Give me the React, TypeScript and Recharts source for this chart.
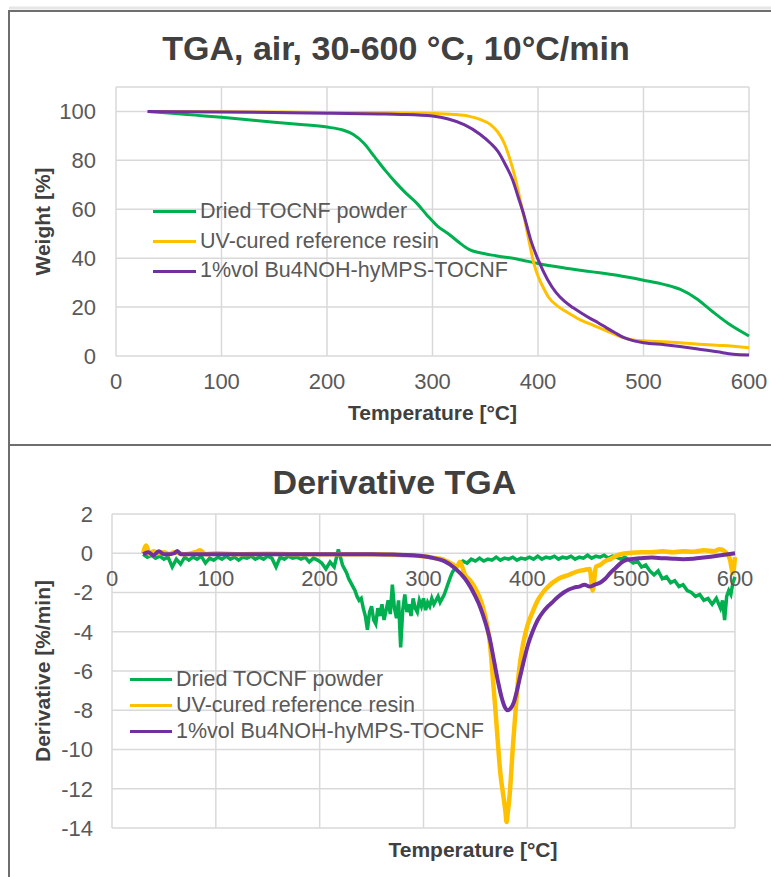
import { LineChart, Line, XAxis, YAxis, CartesianGrid } from 'recharts';

const FONT = "'Liberation Sans', Arial, Helvetica, sans-serif";
const GREEN = '#00B050';
const ORANGE = '#FFC000';
const PURPLE = '#7030A0';
const GRID = '#d9d9d9';
const TICK_COLOR = '#595959';
const TITLE_COLOR = '#404040';

const seriesNames = ['Dried TOCNF powder', 'UV-cured reference resin', '1%vol Bu4NOH-hyMPS-TOCNF'];
const seriesColors = [GREEN, ORANGE, PURPLE];

const tempTicks = [0, 100, 200, 300, 400, 500, 600];
const weightTicks = [0, 20, 40, 60, 80, 100];
const derivTicks = [-14, -12, -10, -8, -6, -4, -2, 0, 2];

// TGA weight curves [%]
const tocnfT = [30, 50, 75, 100, 125, 150, 175, 200, 215, 225, 235, 245, 255, 265, 275, 285, 295, 305, 315, 325, 335, 345, 360, 380, 400, 425, 450, 475, 500, 520, 535, 550, 565, 580, 600];
const tocnfW = [100, 99.4, 98.5, 97.6, 96.6, 95.6, 94.7, 93.6, 92.4, 90.6, 87, 81.5, 76, 71, 66.5, 62.5, 57.5, 53, 50, 46.5, 43.5, 42.2, 41, 39.7, 37.8, 36, 34.5, 33, 31, 29.2, 27.2, 23.5, 18.3, 13.4, 8.2];

const resinT = [30, 100, 200, 250, 300, 320, 335, 345, 355, 362, 368, 373, 378, 383, 388, 392, 396, 400, 405, 410, 420, 430, 440, 450, 460, 470, 480, 490, 500, 520, 550, 575, 600];
const resinW = [100, 99.9, 99.6, 99.5, 99.2, 98.8, 98, 96.8, 94.6, 91.5, 87, 81, 73.5, 64, 54.5, 46, 38, 32.7, 28, 24, 20, 17.3, 14.8, 13, 11.2, 9.4, 7.6, 6.6, 6.2, 5.8, 4.9, 4.3, 3.4];

const hybridT = [30, 100, 200, 250, 270, 300, 315, 330, 345, 355, 362, 370, 376, 381, 387, 393, 400, 409, 417, 425, 433, 441, 449, 457, 465, 473, 481, 490, 500, 520, 550, 570, 585, 600];
const hybridW = [100, 99.8, 99.3, 99, 98.8, 98.1, 96.9, 94.6, 90.7, 87, 83.7, 77.5, 72, 65.3, 57.1, 47.6, 39.5, 31.3, 26, 22.4, 19.8, 17.6, 15.5, 13.6, 11.5, 9.5, 7.6, 6.3, 5.4, 4.6, 3, 1.7, 0.7, 0.4];

// derivative curves [%/min]
const tocnfDT = [
  30, 34, 38, 42, 46, 50, 54, 58, 62, 66,
  70, 74, 78, 82, 86, 90, 94, 98, 102, 106,
  110, 114, 118, 122, 126, 130, 134, 138, 142, 146,
  150, 154, 158, 162, 166, 170, 174, 178, 182, 186,
  190, 194, 198, 202, 206, 210, 214, 218, 222,
  226, 228, 230, 232, 234, 236, 238, 240, 242, 244,
  246, 248, 250, 252, 254, 256, 258, 260, 262, 264,
  266, 268, 270, 272, 274, 276, 278, 280, 282, 284,
  286, 288, 290, 292, 294, 296, 298, 300, 302, 304,
  306, 308, 310, 312, 314, 316, 318, 320, 322, 324,
  326, 328, 330,
  334, 338, 342, 346,
  350, 354, 358, 362, 366, 370, 374, 378, 382, 386,
  390, 394, 398, 402, 406, 410, 414, 418, 422, 426,
  430, 434, 438, 442, 446, 450, 454, 458, 462, 466,
  470, 474, 478, 482, 486, 490, 494, 498, 502, 506,
  510, 514, 518, 522, 526, 530, 534, 538, 542, 546,
  550, 554, 558, 562, 566, 570, 574, 578, 582, 586,
  588, 590, 592, 594, 596, 598, 600,
];
const tocnfD = [
  -0.05, -0.2, -0.1, -0.25, -0.15, -0.3, -0.2, -0.7, -0.3, -0.55,
  -0.2, -0.35, -0.2, -0.3, -0.15, -0.5, -0.25, -0.35, -0.2, -0.3,
  -0.15, -0.3, -0.2, -0.35, -0.2, -0.25, -0.15, -0.3, -0.2, -0.3,
  -0.15, -0.25, -0.7, -0.2, -0.3, -0.15, -0.25, -0.2, -0.3, -0.2,
  -0.45, -0.25, -0.35, -0.5, -0.8, -0.45, -0.7, 0.2, -0.6,
  -1.0, -1.3, -1.5, -1.7, -1.9, -2.2, -2.4, -2.3, -2.8, -3.2,
  -3.9, -3.0, -2.7, -3.4, -3.6, -2.8, -3.2, -2.6, -3.4, -2.9,
  -2.4, -3.1, -1.6, -2.8, -3.3, -2.4, -4.8, -2.9, -2.1, -3.0,
  -2.6, -3.2, -2.3, -2.8, -3.0, -2.4, -2.7, -2.3, -2.9, -2.5,
  -2.7, -2.3, -2.6, -2.4, -2.2, -2.5, -2.3, -2.1, -1.8, -1.5,
  -1.2, -0.95, -0.8,
  -0.55, -0.4, -0.5, -0.3,
  -0.4, -0.25, -0.4, -0.3, -0.35, -0.2, -0.35, -0.25, -0.3, -0.2,
  -0.35, -0.25, -0.3, -0.2, -0.3, -0.15, -0.3, -0.2, -0.25, -0.15,
  -0.3, -0.2, -0.25, -0.15, -0.3, -0.2, -0.25, -0.1, -0.25, -0.15,
  -0.2, -0.1, -0.25, -0.15, -0.2, -0.3, -0.2, -0.35, -0.5, -0.4,
  -0.7, -0.6, -0.9, -1.1, -0.9, -1.3, -1.2, -1.5, -1.4, -1.7,
  -1.6, -1.9, -2.0, -2.2, -2.1, -2.4, -2.3, -2.6, -2.3, -2.8,
  -2.4, -3.4, -2.2, -1.9, -2.1, -1.5, -1.2,
];

const resinDT = [30, 33, 36, 40, 45, 50, 55, 60, 65, 70, 80, 85, 90, 100, 120, 150, 180, 200, 230, 260, 280, 290, 300, 306, 312, 318, 322, 328, 332, 335, 340, 345, 350, 354, 358, 361, 364, 367, 369, 371, 374, 377, 379, 380, 381, 383, 386, 389, 392, 396, 400, 405, 410, 415, 420, 430, 440, 450, 455, 460, 463, 466, 470, 475, 480, 485, 490, 500, 510, 520, 530, 540, 550, 560, 570, 580, 585, 590, 595, 598, 600];
const resinD = [0, 0.4, -0.05, 0.1, 0, 0.05, -0.05, 0.05, 0, -0.05, 0.05, 0.15, -0.05, 0, -0.05, -0.03, -0.05, -0.05, -0.05, -0.05, -0.1, -0.12, -0.15, -0.2, -0.25, -0.3, -0.4, -0.55, -0.7, -0.45, -1.1, -1.4, -1.8, -2.25, -2.9, -3.6, -4.6, -6.5, -7.8, -9.2, -11.2, -12.4, -13.2, -13.7, -13.3, -12.3, -9.9, -7.8, -6.0, -4.6, -3.7, -3.0, -2.4, -2.0, -1.7, -1.3, -1.1, -0.9, -0.85, -0.8, -1.9, -0.7, -0.6, -0.4, -0.3, -0.15, -0.05, 0.02, 0.05, 0.05, 0.1, 0.05, 0.1, 0.08, 0.15, 0.1, 0.2, 0.1, -0.3, -1.0, -0.2];

const hybridDT = [30, 35, 40, 45, 50, 55, 60, 63, 66, 75, 100, 150, 200, 250, 270, 290, 300, 310, 320, 330, 340, 345, 350, 355, 360, 364, 368, 372, 375, 378, 381, 384, 387, 390, 393, 397, 401, 405, 410, 415, 420, 425, 430, 435, 440, 445, 450, 455, 460, 465, 470, 475, 480, 485, 490, 495, 500, 510, 520, 530, 540, 550, 560, 570, 580, 590, 600];
const hybridD = [-0.05, 0.05, -0.1, 0.1, -0.05, -0.05, 0, 0.12, -0.05, -0.05, -0.05, -0.05, -0.05, -0.05, -0.07, -0.1, -0.15, -0.25, -0.4, -0.75, -1.3, -1.7, -2.2, -2.8, -3.6, -4.4, -5.5, -6.6, -7.3, -7.8, -8.0, -7.9, -7.6, -7.0, -6.3, -5.4, -4.6, -4.0, -3.4, -3.0, -2.7, -2.45, -2.2, -2.0, -1.85, -1.75, -1.7, -1.6, -1.7, -1.6, -1.5, -1.3, -1.0, -0.75, -0.5, -0.35, -0.3, -0.25, -0.22, -0.25, -0.28, -0.3, -0.28, -0.22, -0.15, -0.08, 0.0];

const pts = (xs: number[], ys: number[]) => xs.map((t, i) => ({ t, v: ys[i] }));

const tgaSeries = [pts(tocnfT, tocnfW), pts(resinT, resinW), pts(hybridT, hybridW)];
const dtgSeries = [pts(tocnfDT, tocnfD), pts(resinDT, resinD), pts(hybridDT, hybridD)];
const dtgWidths = [3.5, 4.5, 4];

// layout of the derivative panel (x tick labels sit on the zero line)
const DER_MIN = -14;
const DER_MAX = 2;
const DER_TOP = 69;
const DER_H = 432;
const DER_XAXIS_H = 49;
const DER_PLOT_H = DER_H - DER_TOP - DER_XAXIS_H;
const ZERO_SHIFT = (DER_MAX / (DER_MAX - DER_MIN)) * DER_PLOT_H - DER_PLOT_H;

const tickText = { fontSize: 22, fill: TICK_COLOR, fontFamily: FONT };

function ZeroTick(props: any) {
  const { x, y, payload } = props;
  return (
    <text x={x} y={y + ZERO_SHIFT} dy="0.71em" textAnchor="middle" fontSize={22} fill={TICK_COLOR} fontFamily={FONT}>
      {payload.value}
    </text>
  );
}

function XTitle(props: any) {
  const { viewBox, text, shift, base } = props;
  return (
    <text
      x={viewBox.x + viewBox.width / 2 + shift}
      y={viewBox.y + base}
      textAnchor="middle"
      fontSize={21}
      fontWeight="bold"
      fill={TITLE_COLOR}
      fontFamily={FONT}
    >
      {text}
    </text>
  );
}

const yTitle = (value: string) => ({
  value,
  angle: -90,
  position: 'insideLeft' as const,
  offset: 43,
  style: { textAnchor: 'middle', fontSize: 21, fontWeight: 'bold', fill: TITLE_COLOR, fontFamily: FONT },
});

function LegendBox({ left, top, rowH, lineW }: { left: number; top: number; rowH: number; lineW: number }) {
  return (
    <div style={{ position: 'absolute', left, top, fontFamily: FONT, fontSize: 21.5, color: TICK_COLOR }}>
      {seriesNames.map((name, i) => (
        <div key={name} style={{ display: 'flex', alignItems: 'center', height: rowH, whiteSpace: 'nowrap' }}>
          <span style={{ display: 'inline-block', width: lineW, height: 3, background: seriesColors[i], marginRight: 4 }} />
          <span style={{ lineHeight: 1 }}>{name}</span>
        </div>
      ))}
    </div>
  );
}

export default function App() {
  return (
    <div style={{ position: 'absolute', left: 0, top: 0, width: 771, height: 877, background: '#fff', overflow: 'hidden' }}>
      <div style={{ position: 'absolute', left: 0, top: 0 }}>
        <LineChart width={771} height={445} margin={{ top: 87, right: 22, bottom: 19, left: 0 }}>
          <CartesianGrid stroke={GRID} strokeWidth={1.5} />
          <XAxis
            type="number"
            dataKey="t"
            domain={[0, 600]}
            ticks={tempTicks}
            interval={0}
            axisLine={false}
            tickLine={false}
            tick={tickText}
            tickMargin={11}
            height={70}
            allowDuplicatedCategory={false}
            label={<XTitle text="Temperature [°C]" shift={0} base={64} />}
          />
          <YAxis
            type="number"
            domain={[0, 110]}
            ticks={weightTicks}
            interval={0}
            axisLine={false}
            tickLine={false}
            tick={tickText}
            tickMargin={14}
            width={116}
            label={yTitle('Weight [%]')}
          />
          {tgaSeries.map((d, i) => (
            <Line
              key={seriesNames[i]}
              data={d}
              dataKey="v"
              name={seriesNames[i]}
              type="monotone"
              stroke={seriesColors[i]}
              strokeWidth={3}
              dot={false}
              isAnimationActive={false}
            />
          ))}
        </LineChart>
      </div>

      <div style={{ position: 'absolute', left: 0, top: 445 }}>
        <LineChart width={771} height={DER_H} margin={{ top: DER_TOP, right: 36, bottom: 0, left: 0 }}>
          <CartesianGrid stroke={GRID} strokeWidth={1.5} />
          <XAxis
            type="number"
            dataKey="t"
            domain={[0, 600]}
            ticks={tempTicks}
            interval={0}
            axisLine={false}
            tickLine={false}
            tick={<ZeroTick />}
            tickMargin={11}
            height={DER_XAXIS_H}
            allowDuplicatedCategory={false}
            label={<XTitle text="Temperature [°C]" shift={49.5} base={29} />}
          />
          <YAxis
            type="number"
            domain={[DER_MIN, DER_MAX]}
            ticks={derivTicks}
            interval={0}
            axisLine={false}
            tickLine={false}
            tick={tickText}
            tickMargin={13}
            width={112}
            label={yTitle('Derivative [%/min]')}
          />
          {dtgSeries.map((d, i) => (
            <Line
              key={seriesNames[i]}
              data={d}
              dataKey="v"
              name={seriesNames[i]}
              type={i === 0 ? 'linear' : 'monotone'}
              stroke={seriesColors[i]}
              strokeWidth={dtgWidths[i]}
              dot={false}
              isAnimationActive={false}
            />
          ))}
        </LineChart>
      </div>

      <LegendBox left={153} top={197} rowH={29.7} lineW={43} />
      <LegendBox left={130} top={667} rowH={25.8} lineW={42} />

      <svg width={771} height={877} style={{ position: 'absolute', left: 0, top: 0, pointerEvents: 'none' }}>
        <line x1={9} y1={8} x2={771} y2={8} stroke="#e6e6e6" strokeWidth={3} />
        <line x1={9} y1={11} x2={771} y2={11} stroke="#6e6e6e" strokeWidth={2} />
        <line x1={9} y1={10} x2={9} y2={877} stroke="#6e6e6e" strokeWidth={2} />
        <line x1={9} y1={445} x2={771} y2={445} stroke="#6e6e6e" strokeWidth={2} />
        <text x={396} y={60} textAnchor="middle" fontSize={34} fontWeight="bold" fill={TITLE_COLOR} fontFamily={FONT}>
          TGA, air, 30-600 °C, 10°C/min
        </text>
        <text x={394.5} y={494} textAnchor="middle" fontSize={34} fontWeight="bold" fill={TITLE_COLOR} fontFamily={FONT}>
          Derivative TGA
        </text>
      </svg>
    </div>
  );
}
